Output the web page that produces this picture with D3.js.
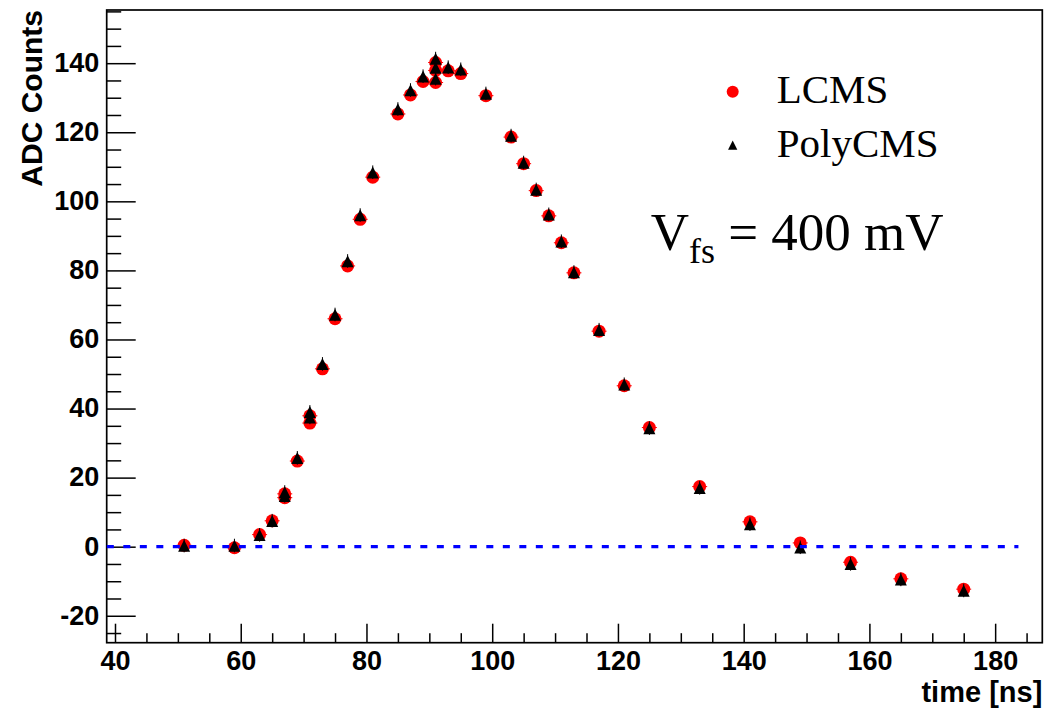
<!DOCTYPE html>
<html>
<head>
<meta charset="utf-8">
<script src="https://cdn.jsdelivr.net/npm/d3@7"></script>
<style>
  html, body { margin: 0; padding: 0; background: #fff; }
  svg { display: block; }
</style>
</head>
<body>
<svg id="chart" width="1051" height="710"></svg>
<script>
// Sample times [ns]; a repeated time is a separate acquisition at that sample.
const times = [51, 59, 63, 65, 67, 67, 69, 71, 71, 73, 75, 77, 79, 81, 85, 87, 89, 91, 91, 91,
               93, 95, 99, 103, 105, 107, 109, 111, 113, 117, 121, 125, 133, 141, 149, 157, 165, 175];
// ADC counts for each readout
const lcms = [0.4, -0.3, 3.5, 7.5, 15.3, 14.2, 24.8, 35.8, 37.9, 51.5, 66.0, 81.3, 94.8, 107.0,
              125.3, 130.8, 134.7, 134.4, 137.9, 140.2, 137.8, 137.0, 130.6, 118.6, 110.9, 103.1,
              95.8, 88.0, 79.3, 62.4, 46.6, 34.5, 17.4, 7.2, 1.1, -4.5, -9.3, -12.3];
const polycms = [0.1, 0.1, 3.2, 7.3, 15.6, 14.5, 25.5, 38.8, 37.2, 52.7, 67.0, 82.5, 95.8, 108.2,
                 126.5, 132.0, 136.0, 135.3, 138.5, 141.1, 138.6, 138.0, 131.0, 118.8, 111.0, 103.2,
                 96.0, 88.2, 79.3, 62.6, 46.8, 34.1, 16.8, 6.3, -0.4, -5.2, -9.7, -12.9];

// Pedestal reference line
const pedestalLevel = 0;
const pedestalSpan = [38.7, 183.7];

// Axis ranges and tick labels
const xDomain = [38.68, 187.5];
const yDomain = [-27.8, 155.4];
const xMajorTicks = [40, 60, 80, 100, 120, 140, 160, 180];
const yMajorTicks = [-20, 0, 20, 40, 60, 80, 100, 120, 140];
const minorStep = 5;

const seriesNames = ["LCMS", "PolyCMS"];

// Frame geometry
const frame = { left: 106.7, right: 1042.3, top: 10, bottom: 642.7 };

const svg = d3.select("#chart");
const x = d3.scaleLinear().domain(xDomain).range([frame.left, frame.right]);
const y = d3.scaleLinear().domain(yDomain).range([frame.bottom, frame.top]);

const tickFont = "'Liberation Sans', Arial, Helvetica, sans-serif";
const serifFont = "'Liberation Serif', 'Times New Roman', Times, serif";
// plain hyphen for negative numbers
const intLabel = d => String(d);

// --- axes (ticks point inward) ---
const xMinor = d3.range(Math.ceil(xDomain[0] / minorStep) * minorStep, xDomain[1], minorStep)
  .filter(v => !xMajorTicks.includes(v));
const yMinor = d3.range(Math.ceil(yDomain[0] / minorStep) * minorStep, yDomain[1], minorStep)
  .filter(v => !yMajorTicks.includes(v));

function styleAxis(g) {
  g.select(".domain").remove();
  g.selectAll(".tick line").attr("stroke", "#000").attr("stroke-width", 1.5);
  g.selectAll("text")
    .attr("fill", "#000")
    .style("font-family", tickFont)
    .style("font-weight", "bold")
    .style("font-size", "27px");
}

svg.append("g")
  .attr("transform", `translate(0,${frame.bottom})`)
  .call(d3.axisBottom(x).tickValues(xMinor).tickSize(-9.5).tickFormat(""))
  .call(styleAxis);

const xAxisG = svg.append("g")
  .attr("transform", `translate(0,${frame.bottom})`)
  .call(d3.axisBottom(x).tickValues(xMajorTicks).tickSize(-19).tickFormat(intLabel))
  .call(styleAxis);
xAxisG.selectAll("text").attr("y", 27.3).attr("dy", null);

svg.append("g")
  .attr("transform", `translate(${frame.left},0)`)
  .call(d3.axisLeft(y).tickValues(yMinor).tickSize(-14.5).tickFormat(""))
  .call(styleAxis);

const yAxisG = svg.append("g")
  .attr("transform", `translate(${frame.left},0)`)
  .call(d3.axisLeft(y).tickValues(yMajorTicks).tickSize(-29).tickPadding(7.4).tickFormat(intLabel))
  .call(styleAxis);
yAxisG.selectAll("text").attr("dy", "0.31em");

// frame
svg.append("rect")
  .attr("x", frame.left).attr("y", frame.top)
  .attr("width", frame.right - frame.left).attr("height", frame.bottom - frame.top)
  .attr("fill", "none").attr("stroke", "#000").attr("stroke-width", 1.7);

// axis titles
svg.append("text")
  .attr("x", frame.right).attr("y", 702)
  .attr("text-anchor", "end")
  .style("font-family", tickFont).style("font-weight", "bold").style("font-size", "29px")
  .text("time [ns]");

svg.append("text")
  .attr("transform", `translate(41.7,${frame.top}) rotate(-90)`)
  .attr("text-anchor", "end")
  .style("font-family", tickFont).style("font-weight", "bold").style("font-size", "30px")
  .text("ADC Counts");

// --- data ---
const lcmsPts = times.map((t, i) => ({ t, v: lcms[i] }));
const polyPts = times.map((t, i) => ({ t, v: polycms[i] }));

const tri = (s) => `M0,${-1.1 * s}L${s},${0.9 * s}L${-s},${0.9 * s}Z`;

// small error stubs
svg.append("g").selectAll("line").data(lcmsPts).join("line")
  .attr("x1", d => x(d.t) - 7.5).attr("x2", d => x(d.t) + 7.5)
  .attr("y1", d => y(d.v)).attr("y2", d => y(d.v))
  .attr("stroke", "#ff0000").attr("stroke-width", 1);

svg.append("g").selectAll("circle").data(lcmsPts).join("circle")
  .attr("cx", d => x(d.t)).attr("cy", d => y(d.v))
  .attr("r", 6.5).attr("fill", "#ff0000");

svg.append("g").selectAll("line").data(polyPts).join("line")
  .attr("x1", d => x(d.t)).attr("x2", d => x(d.t))
  .attr("y1", d => y(d.v) - 7.6).attr("y2", d => y(d.v) + 6)
  .attr("stroke", "#000").attr("stroke-width", 1);

svg.append("g").selectAll("path").data(polyPts).join("path")
  .attr("transform", d => `translate(${x(d.t)},${y(d.v)})`)
  .attr("d", tri(6))
  .attr("fill", "#000");

// pedestal line
svg.append("line")
  .attr("x1", x(pedestalSpan[0])).attr("x2", x(pedestalSpan[1]))
  .attr("y1", y(pedestalLevel)).attr("y2", y(pedestalLevel))
  .attr("stroke", "#0000ff").attr("stroke-width", 3.3)
  .attr("stroke-dasharray", "7,9.5");

// --- legend ---
const legend = svg.append("g");
legend.append("circle").attr("cx", 732.7).attr("cy", 91.7).attr("r", 6).attr("fill", "#ff0000");
legend.append("path").attr("transform", "translate(732.7,145.5)").attr("d", tri(4.6)).attr("fill", "#000");
legend.selectAll("text").data(seriesNames).join("text")
  .attr("x", 776.7)
  .attr("y", (d, i) => 103.3 + i * 53.4)
  .style("font-family", serifFont).style("font-size", "41px")
  .attr("fill", "#000")
  .text(d => d);

// full-scale voltage annotation
const ann = svg.append("text")
  .attr("x", 650.7).attr("y", 250)
  .style("font-family", serifFont).style("font-size", "53px")
  .attr("fill", "#000");
ann.append("tspan").text("V");
ann.append("tspan").attr("dy", 13).style("font-size", "36px").text("fs");
ann.append("tspan").attr("dy", -13).text("\u00a0=\u00a0400\u00a0mV");
</script>
</body>
</html>
